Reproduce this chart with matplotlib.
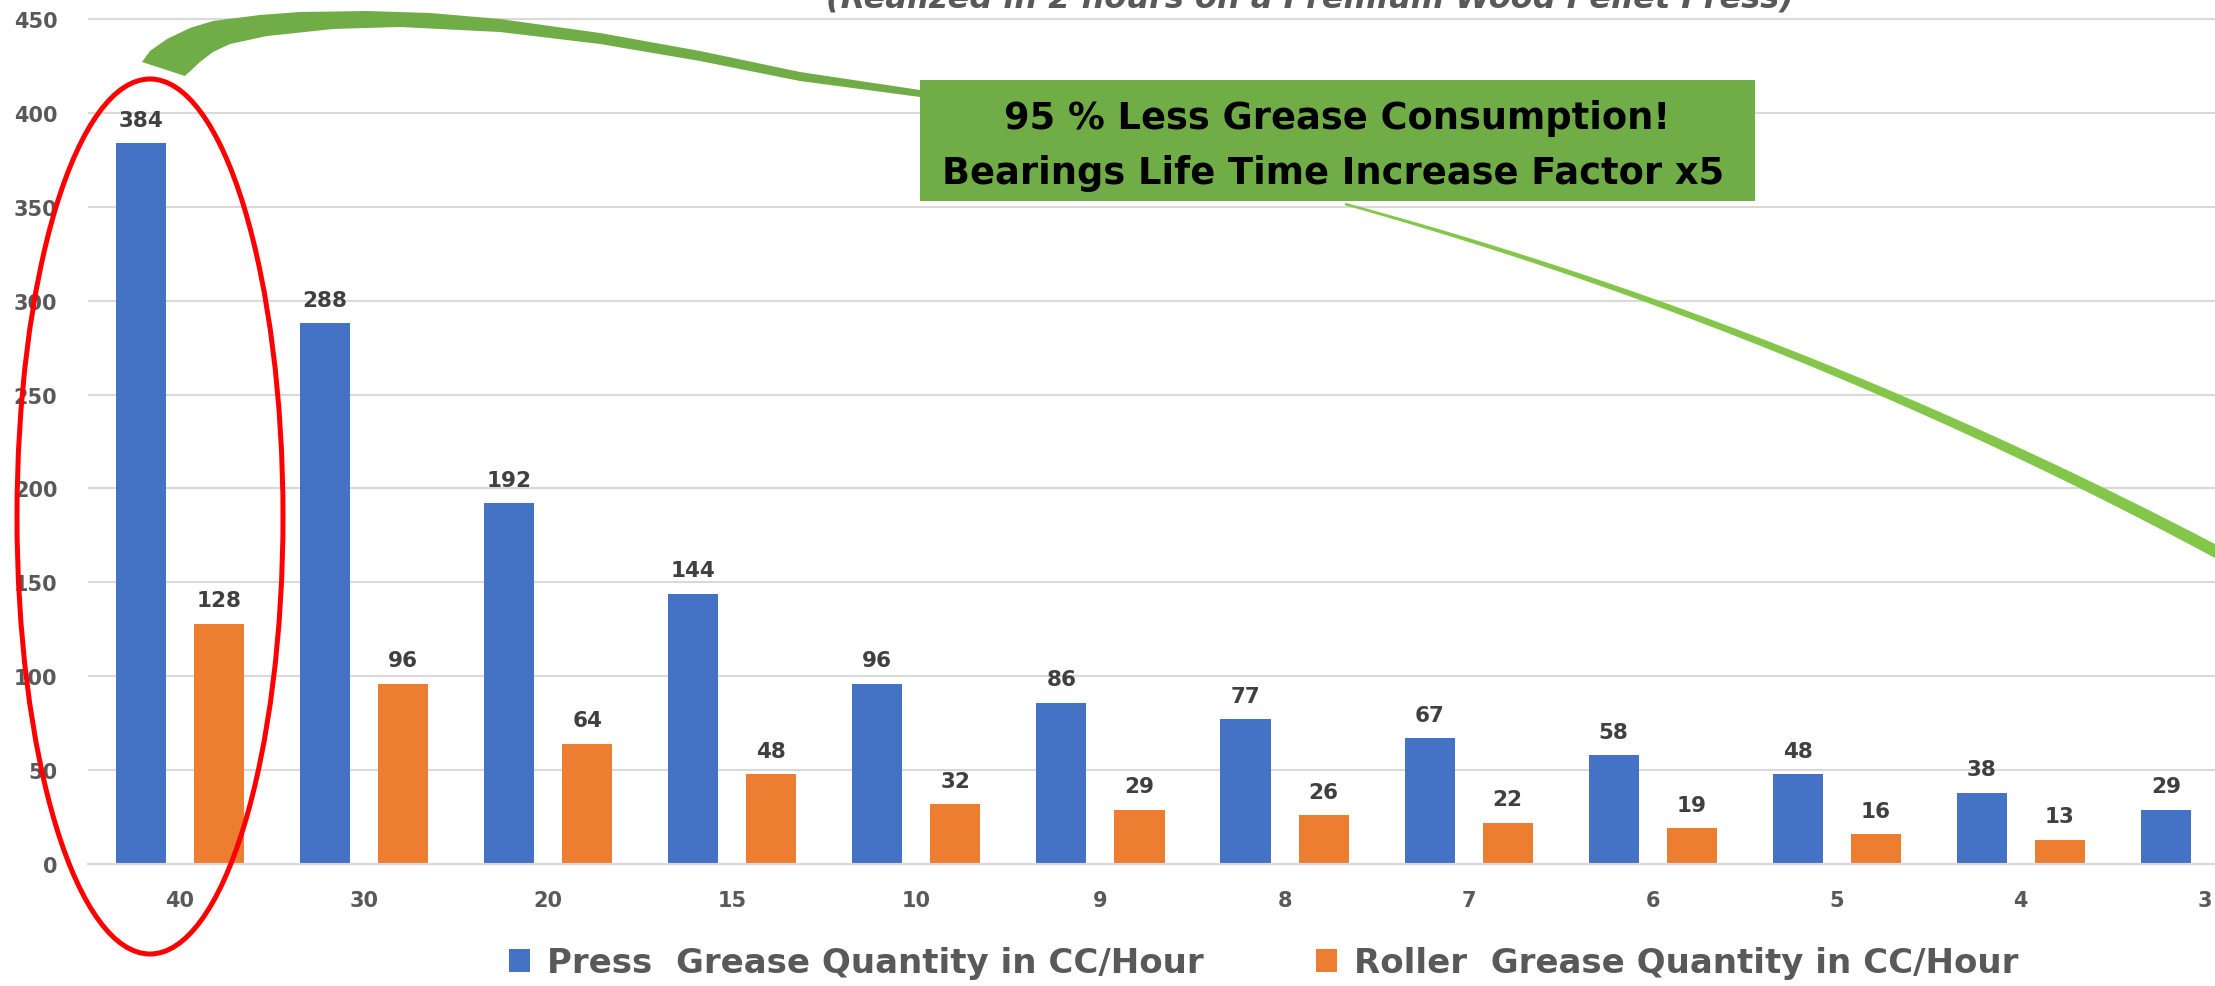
import numpy as np
import matplotlib
matplotlib.use("Agg")
import matplotlib.pyplot as plt
from matplotlib.patches import Ellipse, Polygon, Rectangle, Patch
from matplotlib.transforms import Affine2D

# ---------- dados ----------
categories = ["40", "30", "20", "15", "10", "9", "8", "7", "6", "5", "4", "3"]
press_grease = [384, 288, 192, 144, 96, 86, 77, 67, 58, 48, 38, 29]
roller_grease = [128, 96, 64, 48, 32, 29, 26, 22, 19, 16, 13, 10]
press_label = "Press  Grease Quantity in CC/Hour"
roller_label = "Roller  Grease Quantity in CC/Hour"
subtitle = "(Realized in 2 hours on a Premium Wood Pellet Press)"
callout = ["95 % Less Grease Consumption!", "Bearings Life Time Increase Factor x5"]

BLUE = "#4472C4"
ORANGE = "#ED7D31"
GRID = "#D9D9D9"
TXT = "#595959"

W, H = 2215, 987
plt.rcParams["font.family"] = "DejaVu Sans"

fig = plt.figure(figsize=(W / 100, H / 100), dpi=100)
# transform em pixels da imagem (y para baixo)
px = Affine2D().scale(1 / W, -1 / H).translate(0, 1) + fig.transFigure

ax = fig.add_axes([88 / W, 1 - 865 / H, (2297 - 88) / W, (865 - 10.6) / H])
x = np.arange(len(categories))
bw, off = 0.272, 0.212
b1 = ax.bar(x - off, press_grease, width=bw, color=BLUE)
b2 = ax.bar(x + off, roller_grease, width=bw, color=ORANGE)

for bars in (b1, b2):
    for r in bars:
        v = r.get_height()
        ax.annotate(f"{v:.0f}", (r.get_x() + r.get_width() / 2, v),
                    xytext=(0, 12.5), textcoords="offset points",
                    ha="center", va="baseline", fontsize=15.5,
                    fontweight="bold", color="#404040")

ax.set_xlim(-0.5, len(categories) - 0.5)
ax.set_ylim(0, 455)
ax.set_yticks(range(0, 451, 50))
ax.set_xticks(x)
ax.set_xticklabels(categories)
ax.yaxis.grid(True, color=GRID, lw=1.5)
ax.set_axisbelow(True)
for s in ("left", "right", "top"):
    ax.spines[s].set_visible(False)
ax.spines["bottom"].set_color(GRID)
ax.spines["bottom"].set_linewidth(1.5)
ax.tick_params(axis="y", length=0, pad=22, labelsize=15, labelcolor=TXT)
ax.tick_params(axis="x", length=0, pad=19, labelsize=15, labelcolor=TXT)
for t in ax.get_xticklabels() + ax.get_yticklabels():
    t.set_fontweight("bold")

# subtítulo (cortado no topo, como no original)
fig.text(1310 / W, 1 - 8 / H, subtitle, ha="center", va="baseline",
         fontsize=23, style="italic", fontweight="bold", color=TXT)

# legenda
fig.legend(handles=[Patch(fc=BLUE), Patch(fc=ORANGE)],
           labels=[press_label, roller_label], loc="center",
           bbox_to_anchor=(1264 / W, 1 - 964 / H), ncol=2, frameon=False,
           prop={"weight": "bold", "size": 24.5}, labelcolor=TXT,
           handlelength=0.62, handleheight=0.65, handletextpad=0.5,
           columnspacing=3.3)

# caixa verde
fig.add_artist(Rectangle((920, 81), 835, 121, fc="#70AD47", ec="none",
                         transform=px, zorder=5))
fig.text(1337 / W, 1 - 129 / H, callout[0], ha="center", va="baseline",
         fontsize=26.5, fontweight="bold", color="black", zorder=6)
fig.text(1333 / W, 1 - 184 / H, callout[1], ha="center", va="baseline",
         fontsize=26.5, fontweight="bold", color="black", zorder=6)

# elipse vermelha
fig.add_artist(Ellipse((150, 517.5), 266, 875, fill=False, ec="#FF0000",
                       lw=3.6, transform=px, zorder=5))

# seta grossa (curva) até a caixa
upper = [(142, 63), (150, 52), (167, 40), (190, 29), (213, 22), (260, 16),
         (300, 13), (367, 12), (430, 14), (500, 20), (600, 34), (700, 52),
         (800, 73), (920, 91)]
lower = [(920, 98), (800, 82), (700, 62), (600, 45), (500, 33), (400, 28),
         (333, 30), (267, 37), (230, 45), (213, 53), (200, 63), (185, 77)]
fig.add_artist(Polygon(upper + lower, closed=True, fc="#70AD47", ec="none",
                       transform=px, zorder=5))


def band(pts, widths):
    pts = np.asarray(pts, float)
    d = np.gradient(pts, axis=0)
    n = np.stack([-d[:, 1], d[:, 0]], axis=1)
    n /= np.linalg.norm(n, axis=1)[:, None]
    w = np.asarray(widths)[:, None] / 2
    return np.vstack([pts + n * w, (pts - n * w)[::-1]])


# seta fina saindo da caixa (curva de Bezier quadrática)
p0, p1, p2 = np.array([1345, 205]), np.array([1800, 330]), np.array([2230, 560])
t = np.linspace(0, 1, 60)[:, None]
center = (1 - t) ** 2 * p0 + 2 * (1 - t) * t * p1 + t ** 2 * p2
widths = 2.5 + 10 * t[:, 0]
fig.add_artist(Polygon(band(center, widths), closed=True, fc="#84C64A",
                       ec="none", transform=px, zorder=5))

fig.savefig("out.png", dpi=100)
